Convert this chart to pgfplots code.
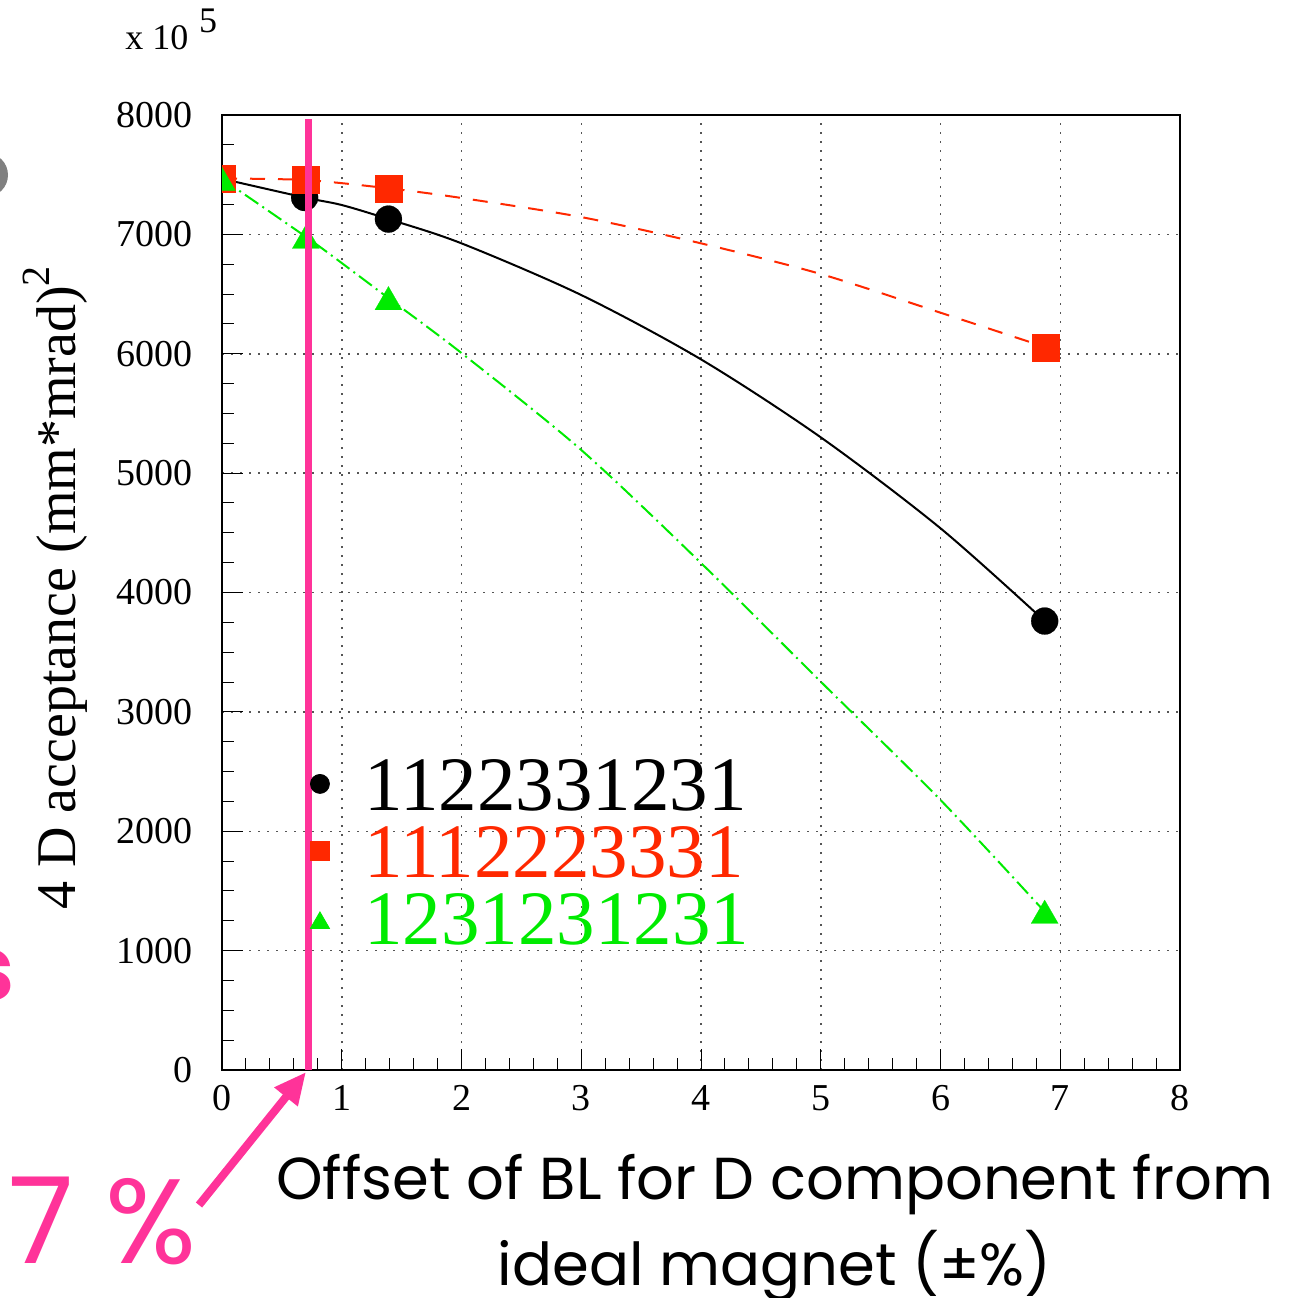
\documentclass[border=0pt]{standalone}
\usepackage{fontspec}
\setmainfont{Liberation Serif}
\newfontfamily\futura{Poppins}
\usepackage{pgfplots}
\pgfplotsset{compat=1.18}
\usetikzlibrary{arrows.meta}
\definecolor{rootred}{RGB}{255,40,0}
\definecolor{rootgreen}{RGB}{0,235,0}
\definecolor{hotpink}{RGB}{255,51,153}
\definecolor{gridgray}{RGB}{85,85,85}
\begin{document}
\begin{tikzpicture}
\useasboundingbox (0,0) rectangle (652pt,648.5pt);
\clip (0,0) rectangle (652pt,648.5pt);
\begin{axis}[
  at={(111pt,113.5pt)}, anchor=south west,
  scale only axis, width=479pt, height=477.5pt,
  xmin=0, xmax=8, ymin=0, ymax=8000,
  xtick={0,1,...,8}, ytick={0,1000,...,8000},
  minor x tick num=4, minor y tick num=3,
  tick align=inside, tick pos=left,
  major tick length=10.5pt, minor tick length=6pt,
  every tick/.style={black, line width=0.5pt},
  grid=major,
  major grid style={gridgray, line width=0.75pt, dash pattern=on 1pt off 3.5pt},
  axis line style={line width=1pt},
  scaled y ticks=false, scaled x ticks=false,
  /pgf/number format/assume math mode=true,
  /pgf/number format/1000 sep={},
  ticklabel style={font=\fontsize{19}{19}\selectfont, inner sep=0pt},
  yticklabel style={anchor=east, xshift=-14.5pt},
  xticklabel style={anchor=north, yshift=-7.5pt},
  clip marker paths=true,
  xlabel={Offset of BL for D component from\\ideal magnet (±\%)},
  every axis x label/.style={at={(axis description cs:0.577,0)}, anchor=north, yshift=-42pt, inner sep=0pt, align=center, font=\futura\fontsize{29.6}{43}\selectfont},
  ylabel={4 D acceptance (mm*mrad)\raisebox{13pt}{\fontsize{20}{20}\selectfont 2}},
  every axis y label/.style={at={(axis description cs:-0.1534,0.505)}, rotate=90, anchor=base, inner sep=0pt, font=\fontsize{28}{28}\selectfont},
  legend style={at={(axis cs:0.735,2622)}, anchor=north west, draw=none, fill=none, inner sep=0pt, row sep=7pt, column sep=17.5pt,
    font=\fontsize{38.5}{38.5}\selectfont, nodes={inner sep=0pt, text height=26.5pt, text depth=0pt}},
  legend cell align=left,
]
% curves
\addplot[black, line width=1pt, smooth, forget plot] coordinates {(0,7466)(0.69,7309)(1,7246)(1.39,7128)(2,6925)(3,6492)(4,5953)(5,5300)(6,4538)(6.87,3761)};
\addplot[rootred, line width=1pt, smooth, dash pattern=on 7.5pt off 6.5pt, forget plot] coordinates {(0,7468)(0.7,7455)(1.39,7386)(2,7305)(3,7145)(4,6925)(5,6668)(6,6344)(6.88,6054)};
\addplot[rootgreen, line width=1pt, smooth, dash pattern=on 8pt off 2.5pt on 1pt off 2.5pt, forget plot] coordinates {(0,7465)(0.7,6980)(1,6760)(1.39,6466)(2,6006)(3,5194)(4,4247)(5,3253)(6,2262)(6.87,1326)};
% markers
\addplot[only marks, mark=*, mark size=6.75pt, black, mark options={line width=0.1pt}, forget plot] coordinates {(0,7466)(0.69,7309)(1.39,7128)(6.87,3761)};
\addplot[only marks, mark=square*, mark size=6.75pt, rootred, mark options={line width=0.1pt}, forget plot] coordinates {(0,7468)(0.7,7455)(1.39,7386)(6.88,6054)};
\addplot[only marks, mark=triangle*, mark size=7.8pt, rootgreen, mark options={line width=0.1pt, yshift=-1.95pt}, forget plot] coordinates {(0,7465)(0.7,6980)(1.39,6466)(6.87,1326)};
% legend
\addlegendimage{only marks, mark=*, mark size=4.75pt, black}
\addlegendentry[text=black]{1122331231}
\addlegendimage{only marks, mark=square*, mark size=4.75pt, rootred}
\addlegendentry[text=rootred]{1112223331}
\addlegendimage{only marks, mark=triangle*, mark size=5.5pt, rootgreen, mark options={yshift=-2.5pt}}
\addlegendentry[text=rootgreen]{1231231231}
% highlighted offset
\draw[hotpink, line width=3.67pt] (axis cs:0.72,0) -- (axis cs:0.72,7966);
\end{axis}
\draw[hotpink, line width=4pt, -{Triangle[length=16pt,width=14pt]}] (99.5pt,46pt) -- (153pt,112.5pt);
\node[anchor=base west, inner sep=0pt, text=hotpink, font=\futura\fontsize{60}{60}\selectfont] at (4pt,17pt) {7 \%};
\fill[gray] (-7pt,561pt) circle (11pt);
\node[anchor=base east, inner sep=0pt, text=hotpink, font=\futura\bfseries\fontsize{45}{45}\selectfont] at (7.5pt,148.5pt) {s};
\node[anchor=base west, inner sep=0pt, font=\fontsize{18}{18}\selectfont] at (62.5pt,623.5pt) {x 10\hspace{0.3em}\raisebox{8.5pt}{5}};
\end{tikzpicture}
\end{document}
